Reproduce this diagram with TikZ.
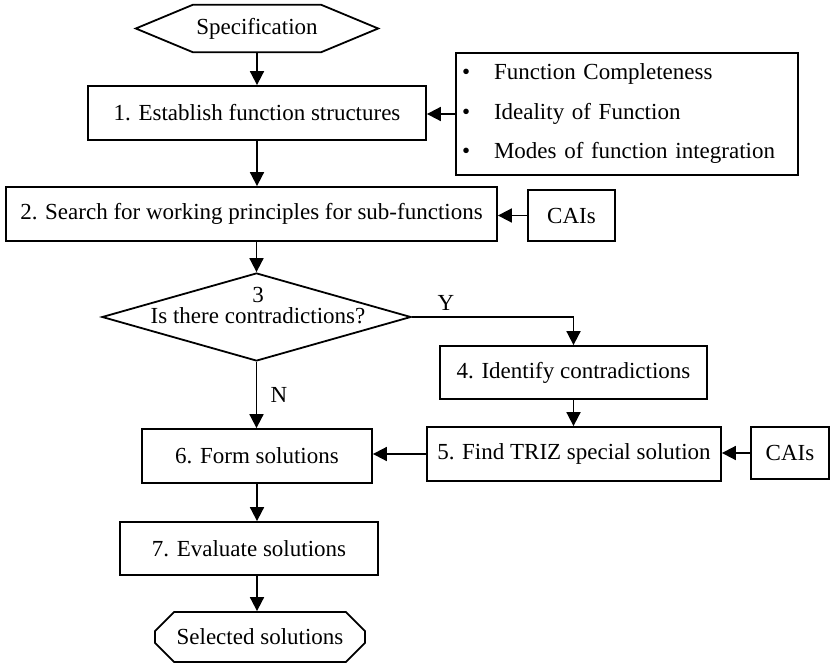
\documentclass[tikz,border=0pt]{standalone}
\usepackage{fontspec}
\setmainfont{Liberation Serif}
\usetikzlibrary{arrows.meta,shapes.geometric,shapes.misc}

\tikzset{
  box/.style={draw, line width=1.8pt, font=\fontsize{23}{27}\selectfont, inner sep=0pt},
  lab/.style={font=\fontsize{23}{27}\selectfont, inner sep=0pt},
  arr/.style={line width=1.8pt, -{Triangle[length=14pt,width=14pt]}},
}

\begin{document}
\begin{tikzpicture}[x=1pt,y=-1pt]
\useasboundingbox (0,0) rectangle (832,663);
% start and criteria
\node[lab, minimum width=242pt, minimum height=47pt] (spec) at (257,28.5) {Specification};
\draw[line width=1.8pt] (spec.west) -- ([xshift=57pt]spec.north west) -- ([xshift=-57pt]spec.north east)
  -- (spec.east) -- ([xshift=-57pt]spec.south east) -- ([xshift=57pt]spec.south west) -- cycle;
\node[box, minimum width=338pt, minimum height=54pt] (estab) at (257,113) {1. Establish function structures};
\node[box, minimum width=342pt, minimum height=122pt, text width=330pt, align=left,
      font=\fontsize{23}{39.5}\selectfont] (crit) at (627,114)
  {\makebox[32pt][l]{\textbullet}Function Completeness\\
   \makebox[32pt][l]{\textbullet}Ideality of Function\\
   \makebox[32pt][l]{\textbullet}Modes of function integration};
% working principles
\node[box, minimum width=491pt, minimum height=54pt] (search) at (251.5,214) {2. Search for working principles for sub-functions};
\node[box, minimum width=87pt, minimum height=51pt] (cai1) at (571.5,215.5) {CAIs};
% decision
\node[box, diamond, minimum width=309pt, minimum height=88pt] (q3) at (256.5,317) {};
\node[lab, align=center, font=\fontsize{23}{21}\selectfont] (q3txt) at (258,306) {3\\Is there contradictions?};
\node[lab] (ylab) at (446,302.5) {Y};
\node[lab] (nlab) at (279,395) {N};
% contradiction branch
\node[box, minimum width=267pt, minimum height=53pt] (ident) at (573.5,372.5) {4. Identify contradictions};
\node[box, minimum width=294pt, minimum height=54pt] (triz) at (574,454) {5. Find TRIZ special solution};
\node[box, minimum width=78pt, minimum height=52pt] (cai2) at (790,453) {CAIs};
% solutions
\node[box, minimum width=230pt, minimum height=54pt] (form) at (257,456) {6. Form solutions};
\node[box, minimum width=258pt, minimum height=53pt] (eval) at (249,548.5) {7. Evaluate solutions};
\node[box, chamfered rectangle, chamfered rectangle xsep=15pt, chamfered rectangle ysep=11pt,
      minimum width=210pt, minimum height=50pt] (sel) at (260,637) {Selected solutions};
% connectors
\draw[arr] (spec.south) -- (estab.north);
\draw[arr] (crit.west) -- (crit.west -| estab.east);
\draw[arr] (estab.south) -- (estab.south |- search.north);
\draw[arr] (cai1.west) -- (cai1.west -| search.east);
\draw[arr] (q3.north |- search.south) -- (q3.north);
\draw[arr] (q3.east) -| (ident.north);
\draw[arr] (q3.south) -- (q3.south |- form.north);
\draw[arr] (ident.south) -- (ident.south |- triz.north);
\draw[arr] (cai2.west) -- (cai2.west -| triz.east);
\draw[arr] (triz.west) -- (triz.west -| form.east);
\draw[arr] (form.south) -- (form.south |- eval.north);
\draw[arr] (form.south |- eval.south) -- (form.south |- sel.north);
\end{tikzpicture}
\end{document}
